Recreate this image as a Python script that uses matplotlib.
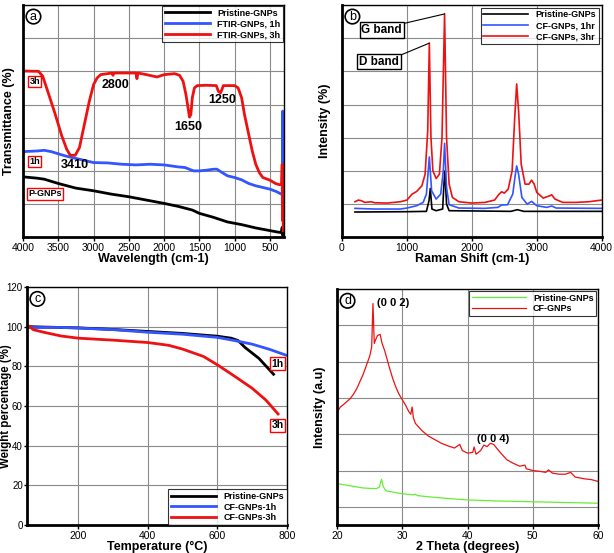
import matplotlib.pyplot as plt

plt.rcParams['font.family'] = ['Liberation Sans', 'DejaVu Sans']

# ---- (a) FTIR ----
ftir_x_red = [4000, 3780, 3720, 3650, 3550, 3450, 3380, 3330, 3260, 3200, 3130, 3060, 3000, 2950, 2900,
              2800, 2740, 2725, 2710, 2500, 2400, 2385, 2370, 2250, 2100, 2000, 1850, 1780, 1730, 1690,
              1660, 1640, 1620, 1600, 1570, 1530, 1400, 1260, 1230, 1200, 1180, 1160, 1000, 950, 900,
              860, 800, 750, 700, 650, 600, 500, 420, 360, 335, 325, 318, 314, 310]
ftir_red = [5.01, 5.0, 4.85, 4.4, 3.75, 3.05, 2.65, 2.47, 2.47, 2.7, 3.4, 4.1, 4.6, 4.8, 4.9,
            4.93, 4.95, 4.88, 4.95, 4.95, 4.95, 4.78, 4.95, 4.9, 4.83, 4.9, 4.93, 4.88, 4.7, 4.3,
            3.9, 3.62, 3.7, 4.2, 4.5, 4.57, 4.58, 4.57, 4.4, 4.35, 4.45, 4.57, 4.57, 4.5, 4.2,
            3.7, 3.1, 2.6, 2.2, 1.95, 1.8, 1.72, 1.62, 1.58, 1.6, 2.2, 0.5, 1.8, 0.2]
ftir_x_blue = [4000, 3800, 3700, 3600, 3400, 3200, 3000, 2800, 2600, 2400, 2200, 2000, 1800, 1700, 1620,
               1580, 1500, 1400, 1300, 1250, 1200, 1100, 1000, 900, 800, 700, 600, 500, 400, 340, 325,
               318, 314, 310]
ftir_blue = [2.58, 2.6, 2.62, 2.58, 2.45, 2.35, 2.25, 2.24, 2.2, 2.18, 2.2, 2.18, 2.12, 2.1, 2.03,
             2.0, 2.0, 2.02, 2.05, 2.05, 1.98, 1.85, 1.8, 1.73, 1.62, 1.55, 1.5, 1.45, 1.37, 1.3, 1.35,
             3.8, 1.2, 1.3]
ftir_x_black = [4000, 3800, 3700, 3500, 3250, 3000, 2750, 2500, 2250, 2000, 1800, 1600, 1500, 1300,
                1100, 900, 700, 500, 400, 340, 325, 318, 310]
ftir_black = [1.82, 1.78, 1.75, 1.62, 1.48, 1.4, 1.3, 1.22, 1.12, 1.02, 0.93, 0.82, 0.72, 0.6,
              0.46, 0.38, 0.28, 0.2, 0.16, 0.14, 0.3, 0.05, 0.1]

# ---- (b) Raman ----
raman_x_red = [200, 250, 300, 350, 450, 500, 700, 900, 1000, 1080, 1150, 1230, 1280, 1320, 1345, 1370,
               1400, 1450, 1500, 1540, 1580, 1610, 1650, 1700, 1800, 2000, 2200, 2350, 2420, 2460, 2500,
               2560, 2620, 2660, 2690, 2720, 2760, 2820, 2880, 2920, 2960, 3000, 3100, 3200, 3230, 3280,
               3400, 3600, 3800, 4000]
raman_red = [1.07, 1.12, 1.1, 1.05, 1.07, 1.04, 1.03, 1.07, 1.12, 1.3, 1.38, 1.55, 1.9, 3.2, 5.85, 3.0,
             2.0, 1.77, 1.9, 3.0, 6.73, 3.0, 1.6, 1.2, 1.07, 1.03, 1.05, 1.12, 1.3, 1.37, 1.33,
             1.45, 2.0, 3.6, 4.62, 3.8, 2.2, 1.6, 1.6, 1.72, 1.6, 1.35, 1.18, 1.25, 1.28, 1.15,
             1.05, 1.05, 1.07, 1.12]
raman_x_blue = [200, 500, 900, 1000, 1150, 1250, 1300, 1345, 1380, 1450, 1520, 1560, 1580, 1610, 1650,
                1800, 2200, 2400, 2460, 2550, 2630, 2670, 2690, 2720, 2770, 2850, 2920, 3000, 3150,
                3230, 3300, 4000]
raman_blue = [0.87, 0.85, 0.85, 0.88, 0.95, 1.05, 1.3, 2.42, 1.4, 1.15, 1.3, 2.0, 2.83, 1.5, 0.98,
              0.88, 0.87, 0.9, 0.97, 0.98, 1.3, 1.9, 2.15, 1.9, 1.2, 1.0, 1.08, 0.95, 0.9,
              0.94, 0.88, 0.87]
raman_x_black = [200, 1000, 1300, 1340, 1360, 1385, 1450, 1550, 1570, 1585, 1610, 1650, 2600, 2700,
                 2800, 4000]
raman_black = [0.76, 0.77, 0.78, 1.1, 1.47, 0.85, 0.8, 0.85, 1.6, 2.0, 1.0, 0.8, 0.78, 0.83,
               0.78, 0.78]

# ---- (c) TGA ----
tga_x_black = [60, 100, 200, 300, 400, 500, 600, 640, 660, 680, 720, 762]
tga_black = [100, 99.8, 99.4, 98.6, 97.6, 96.6, 95.2, 94.2, 93, 89.5, 84, 76]
tga_x_blue = [60, 150, 200, 300, 400, 500, 600, 650, 700, 750, 800]
tga_blue = [99.6, 99.6, 99.3, 98.5, 97.2, 96.2, 94.6, 93, 91.2, 88.6, 85.5]
tga_x_red = [60, 70, 100, 150, 200, 300, 400, 460, 500, 560, 600, 650, 700, 740, 775]
tga_red = [100, 98.5, 97.2, 95.3, 94.2, 93.2, 92, 90.6, 88.7, 85, 80.8, 75, 69, 63, 56]

# ---- (d) XRD ----
xrd_x_green = [20, 22, 24, 26, 26.5, 26.8, 27.1, 27.5, 30, 31.7, 32, 32.3, 35, 40, 45, 50, 55, 60]
xrd_green = [0.64, 0.58, 0.52, 0.5, 0.55, 0.76, 0.55, 0.44, 0.36, 0.33, 0.35, 0.31, 0.26, 0.19, 0.16,
             0.14, 0.12, 0.1]
xrd_x_red = [20, 20.5, 21, 21.5, 22, 22.5, 23, 23.5, 24, 24.5, 25, 25.3, 25.5, 25.7, 25.9, 26.2, 26.6,
             26.9, 27.3, 28, 28.5, 29, 29.5, 30, 30.5, 31, 31.3, 31.5, 31.7, 32, 33, 34, 35, 36, 37, 38,
             38.8, 39.2, 40, 40.8, 41, 41.3, 42, 42.5, 43, 43.5, 44, 45, 46, 47, 48, 48.8, 49, 50, 51,
             52, 52.4, 53, 54, 55, 55.8, 56.5, 58, 59, 60]
xrd_red = [2.6, 2.75, 2.82, 2.9, 2.98, 3.1, 3.25, 3.45, 3.65, 3.9, 4.15, 4.4, 5.6, 4.5, 4.6, 4.72, 4.75,
           4.5, 4.3, 3.85, 3.55, 3.3, 3.1, 2.95, 2.8, 2.62, 2.55, 2.75, 2.45, 2.3, 2.1, 1.95, 1.85, 1.75,
           1.68, 1.62, 1.72, 1.55, 1.48, 1.5, 1.65, 1.45, 1.55, 1.7, 1.66, 1.75, 1.72, 1.5, 1.3, 1.2,
           1.12, 1.15, 1.05, 1.0, 0.98, 0.95, 1.02, 0.93, 0.9, 0.9, 0.95, 0.82, 0.77, 0.75, 0.7]

fig = plt.figure(figsize=(6.14, 5.53), dpi=100)
axa = fig.add_axes([0.0375, 0.571, 0.425, 0.42])
axb = fig.add_axes([0.557, 0.571, 0.423, 0.42])
axc = fig.add_axes([0.044, 0.0506, 0.423, 0.4304])
axd = fig.add_axes([0.549, 0.0506, 0.425, 0.4268])


def style(ax):
    ax.grid(True, color='#8a8a8a', lw=0.8)
    ax.set_axisbelow(True)
    for s in ['left', 'bottom']:
        ax.spines[s].set_linewidth(2)
    for s in ['top', 'right']:
        ax.spines[s].set_linewidth(1)
    ax.tick_params(labelsize=7.5, length=3, width=1, pad=1)


def circled(ax, letter):
    ax.text(0.04, 0.95, letter, transform=ax.transAxes, fontsize=9, ha='center', va='center',
            bbox=dict(boxstyle='circle,pad=0.1', fc='white', ec='black', lw=1.2))


def legend(ax, loc, hl=5, pad=0.1):
    leg = ax.legend(loc=loc, prop={'weight': 'bold', 'size': 6.5}, frameon=True, fancybox=False,
                    edgecolor='black', handlelength=hl, borderpad=0.3, labelspacing=0.2,
                    borderaxespad=pad)
    leg.get_frame().set_linewidth(0.8)


box = dict(boxstyle='square,pad=0.15', fc='white', ec='red', lw=1)
bbox_k = dict(boxstyle='square,pad=0.15', fc='white', ec='black', lw=1)

# (a)
axa.plot(ftir_x_black, ftir_black, color='black', lw=2, label='Pristine-GNPs')
axa.plot(ftir_x_blue, ftir_blue, color='#3355ff', lw=2, label='FTIR-GNPs, 1h')
axa.plot(ftir_x_red, ftir_red, color='#ee1111', lw=2, label='FTIR-GNPs, 3h')
axa.set_xlim(4000, 300)
axa.set_ylim(0, 7)
axa.set_xticks([4000, 3500, 3000, 2500, 2000, 1500, 1000, 500])
axa.set_yticks(range(8))
axa.set_yticklabels([])
style(axa)
axa.tick_params(axis='y', length=0)
axa.set_xlabel('Wavelength (cm-1)', fontsize=9, fontweight='bold', labelpad=0)
axa.set_ylabel('Transmittance (%)', fontsize=9, fontweight='bold', va='center')
axa.yaxis.set_label_coords(-0.055, 0.5)
circled(axa, 'a')
legend(axa, 'upper right')
axa.text(3910, 4.69, '3h', fontsize=6.5, fontweight='bold', va='center', bbox=box)
axa.text(3910, 2.28, '1h', fontsize=6.5, fontweight='bold', va='center', bbox=box)
axa.text(3930, 1.31, 'P-GNPs', fontsize=6.5, fontweight='bold', va='center', bbox=box)
for lx, ly, t in [(2682, 4.59, '2800'), (3263, 2.17, '3410'), (1661, 3.32, '1650'), (1179, 4.13, '1250')]:
    axa.text(lx, ly, t, fontsize=9, fontweight='bold', ha='center', va='center')

# (b)
axb.plot(raman_x_black, raman_black, color='black', lw=1.2, label='Pristine-GNPs')
axb.plot(raman_x_blue, raman_blue, color='#3355ff', lw=1.2, label='CF-GNPs, 1hr')
axb.plot(raman_x_red, raman_red, color='#ee1111', lw=1.2, label='CF-GNPs, 3hr')
axb.set_xlim(0, 4000)
axb.set_ylim(0, 7)
axb.set_xticks([0, 1000, 2000, 3000, 4000])
axb.set_yticks(range(8))
axb.set_yticklabels([])
style(axb)
axb.tick_params(axis='y', length=0)
axb.set_xlabel('Raman Shift (cm-1)', fontsize=9, fontweight='bold', labelpad=0)
axb.set_ylabel('Intensity (%)', fontsize=9, fontweight='bold', va='center')
axb.yaxis.set_label_coords(-0.066, 0.5)
circled(axb, 'b')
legend(axb, 'upper right', pad=0.3)
axb.annotate('G band', xy=(1580, 6.73), xytext=(925, 6.25), fontsize=8.5, fontweight='bold',
             ha='right', va='center', bbox=bbox_k,
             arrowprops=dict(arrowstyle='-', color='black', lw=0.8, shrinkA=0, shrinkB=0,
                             relpos=(1, 1)))
axb.annotate('D band', xy=(1345, 5.85), xytext=(880, 5.29), fontsize=8.5, fontweight='bold',
             ha='right', va='center', bbox=bbox_k,
             arrowprops=dict(arrowstyle='-', color='black', lw=0.8, shrinkA=0, shrinkB=0,
                             relpos=(1, 1)))

# (c)
axc.plot(tga_x_black, tga_black, color='black', lw=2, label='Pristine-GNPs')
axc.plot(tga_x_blue, tga_blue, color='#3355ff', lw=2, label='CF-GNPs-1h')
axc.plot(tga_x_red, tga_red, color='#ee1111', lw=2, label='CF-GNPs-3h')
axc.set_xlim(52, 800)
axc.set_ylim(0, 120)
axc.set_xticks([200, 400, 600, 800])
axc.set_yticks(range(0, 121, 20))
style(axc)
axc.tick_params(axis='y', labelsize=7, length=2.5, pad=0.5)
axc.set_xlabel('Temperature (°C)', fontsize=9, fontweight='bold', labelpad=0)
axc.set_ylabel('Weight percentage (%)', fontsize=8.3, fontweight='bold', va='center')
axc.yaxis.set_label_coords(-0.082, 0.5)
circled(axc, 'c')
legend(axc, 'lower right', pad=0.0)
axc.text(773, 81.4, '1h', fontsize=7.5, fontweight='bold', ha='center', va='center', bbox=box)
axc.text(773, 50.2, '3h', fontsize=7.5, fontweight='bold', ha='center', va='center', bbox=box)

# (d)
axd.plot(xrd_x_green, xrd_green, color='#66ee33', lw=0.9, label='Pristine-GNPs')
axd.plot(xrd_x_red, xrd_red, color='#ee1111', lw=0.9, label='CF-GNPs')
axd.set_xlim(20, 60)
axd.set_ylim(-0.5, 6)
axd.set_xticks([20, 30, 40, 50, 60])
axd.set_yticks(range(6))
axd.set_yticklabels([])
style(axd)
axd.tick_params(axis='y', length=0)
axd.set_xlabel('2 Theta (degrees)', fontsize=9, fontweight='bold', labelpad=0)
axd.set_ylabel('Intensity (a.u)', fontsize=9, fontweight='bold', va='center')
axd.yaxis.set_label_coords(-0.065, 0.5)
circled(axd, 'd')
legend(axd, 'upper right', hl=6, pad=0.2)
axd.text(28.6, 5.61, '(0 0 2)', fontsize=8, fontweight='bold', ha='center', va='center')
axd.text(43.9, 1.87, '(0 0 4)', fontsize=8, fontweight='bold', ha='center', va='center')

fig.savefig('out.png', dpi=100)
